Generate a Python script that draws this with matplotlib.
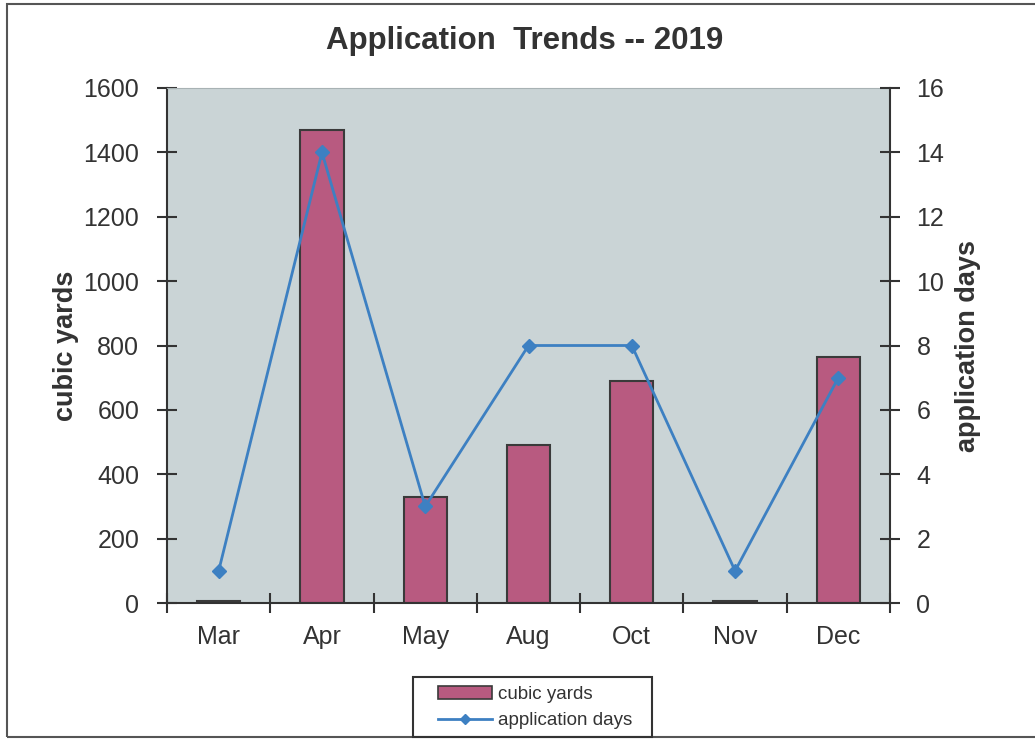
import numpy as np
from matplotlib import pyplot as plt
from matplotlib.patches import Rectangle
from matplotlib.lines import Line2D

plt.rcParams['font.family'] = ['Liberation Sans', 'DejaVu Sans']

months = ['Mar', 'Apr', 'May', 'Aug', 'Oct', 'Nov', 'Dec']
cubic_yards = [5, 1470, 330, 490, 690, 5, 765]
application_days = [1, 14, 3, 8, 8, 1, 7]

bar_color = '#b85a80'
line_color = '#3d80c2'
text_color = '#333333'

fig = plt.figure(figsize=(10.35, 7.40), dpi=100)

# outer frame of the chart sheet
fig.patches.append(Rectangle((0.007, 0.004), 1.2, 0.99, transform=fig.transFigure,
                             fill=False, edgecolor='#555555', linewidth=1.5))

ax = fig.add_axes([0.1614, 0.1851, 0.6985, 0.6960])
ax.set_facecolor('#cad4d6')

x = np.arange(len(months))
ax.bar(x, cubic_yards, width=0.42, color=bar_color, edgecolor='#3a3a3a',
       linewidth=1.5, zorder=2)
ax.set_xlim(-0.5, len(months) - 0.5)
ax.set_ylim(0, 1600)
ax.set_yticks(np.arange(0, 1601, 200))
ax.set_ylabel('cubic yards', fontsize=19.5, fontweight='bold', color=text_color, labelpad=3)

# category boundaries carry the tick marks, labels sit at centres
ax.set_xticks(np.arange(-0.5, len(months)), labels=[])
ax.set_xticks(x, labels=months, minor=True)
ax.tick_params(axis='x', which='major', direction='inout', length=14, width=1.5, color='#333333')
ax.tick_params(axis='x', which='minor', length=0, pad=16, labelsize=18, labelcolor=text_color)
ax.tick_params(axis='y', direction='inout', length=14, width=1.5, color='#333333',
               labelsize=18, labelcolor=text_color, pad=13)

for side in ['left', 'bottom', 'right']:
    ax.spines[side].set_linewidth(1.5)
    ax.spines[side].set_color('#333333')
ax.spines['top'].set_color('#a8b2b4')
ax.spines['top'].set_linewidth(0.8)

ax2 = ax.twinx()
ax2.plot(x, application_days, color=line_color, linewidth=2, marker='D',
         markersize=7, zorder=3)
ax2.set_ylim(0, 16)
ax2.set_yticks(np.arange(0, 17, 2))
ax2.tick_params(axis='y', direction='inout', length=14, width=1.5, color='#333333',
                labelsize=18, labelcolor=text_color, pad=12)
ax2.set_ylabel('application days', fontsize=19.5, fontweight='bold', color=text_color, labelpad=8)
for side in ['left', 'bottom', 'right', 'top']:
    ax2.spines[side].set_visible(False)

fig.text(0.507, 0.945, 'Application  Trends -- 2019', ha='center', va='center',
         fontsize=22.5, fontweight='bold', color=text_color)

# legend box drawn separately so it can be wider than the entries
fig.patches.append(Rectangle((0.399, 0.004), 0.231, 0.081, transform=fig.transFigure,
                             fill=False, edgecolor='#333333', linewidth=1.5))
handles = [Rectangle((0, 0), 1, 1, facecolor=bar_color, edgecolor='#3a3a3a', linewidth=1.2),
           Line2D([], [], color=line_color, linewidth=2, marker='D', markersize=5)]
leg = fig.legend(handles, ['cubic yards', 'application days'], loc='center',
                 bbox_to_anchor=(0.517, 0.044), fontsize=13.5, frameon=False,
                 handlelength=2.9, handletextpad=0.35, labelspacing=0.5)
for t in leg.get_texts():
    t.set_color(text_color)

fig.savefig('out.png', dpi=100)
